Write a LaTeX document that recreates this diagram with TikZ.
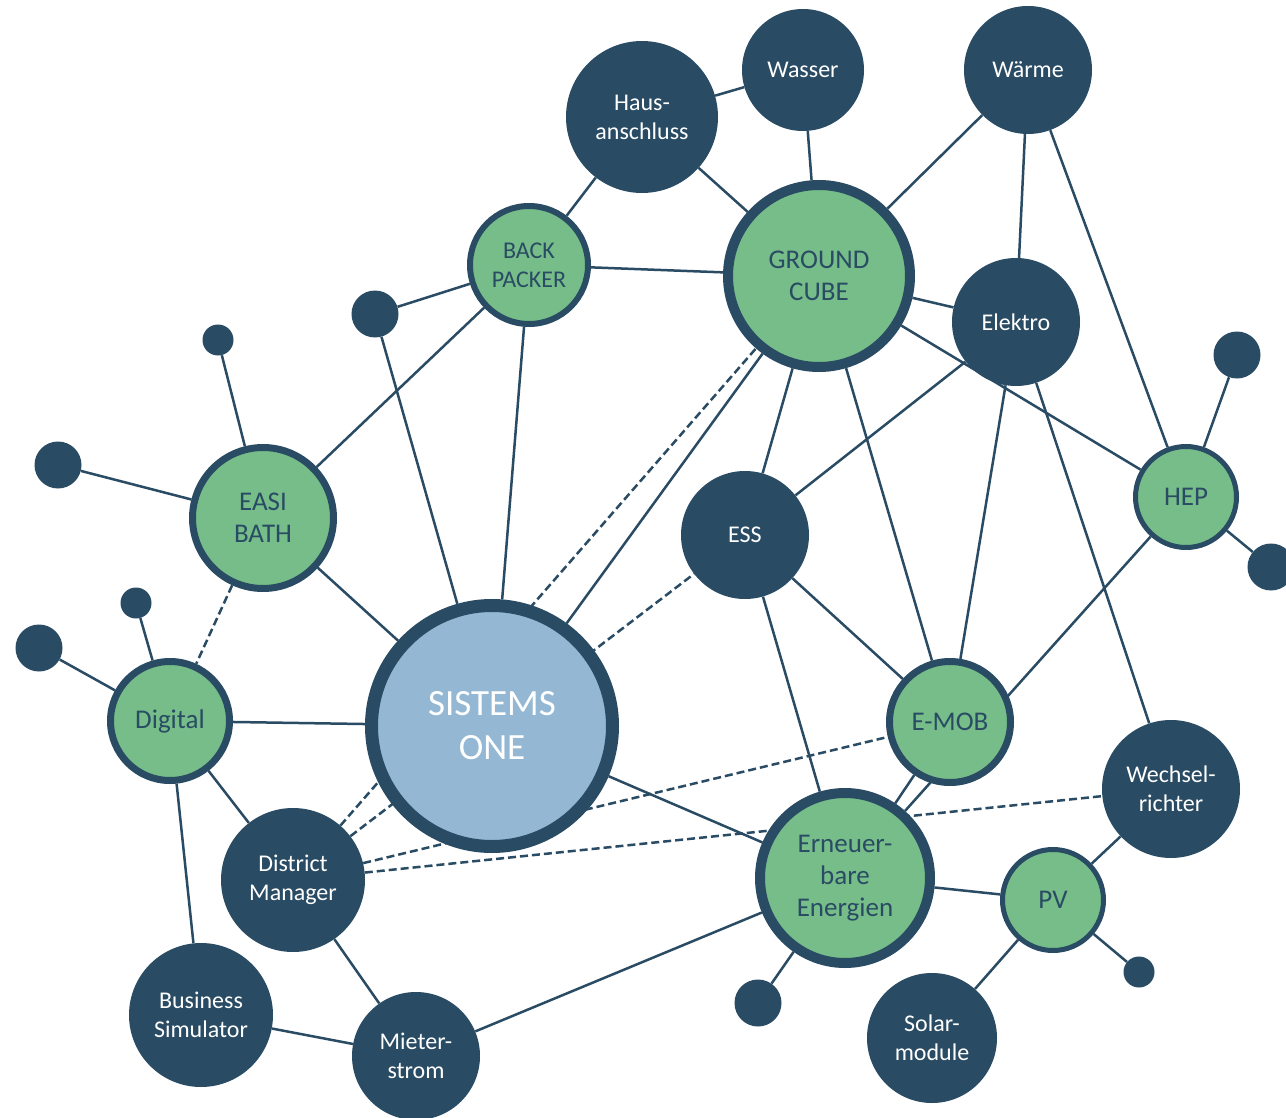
\documentclass[tikz,border=0pt]{standalone}
\usepackage{fontspec}
\setmainfont{Carlito}
\usepackage{xcolor}
\definecolor{navy}{HTML}{294B63}
\definecolor{leaf}{HTML}{76BD89}
\definecolor{sky}{HTML}{94B8D4}
\usepackage{tikz}
\usetikzlibrary{backgrounds}

\tikzset{
  core/.style={circle, draw=navy, fill=sky, text=white, inner sep=0pt, align=center,
    font=\fontsize{37}{44}\selectfont},
  hub/.style={circle, draw=navy, fill=leaf, text=navy, inner sep=0pt, align=center,
    font=\fontsize{27}{32}\selectfont},
  topic/.style={circle, fill=navy, text=white, inner sep=0pt, align=center,
    font=\fontsize{24}{29}\selectfont},
  dotbig/.style={circle, fill=navy, inner sep=0pt, minimum size=47pt},
  dotsmall/.style={circle, fill=navy, inner sep=0pt, minimum size=31pt},
  link/.style={draw=navy, line width=2.5pt},
  dlink/.style={link, dash pattern=on 8pt off 4pt},
}

\begin{document}
\begin{tikzpicture}[x=1pt, y=-1pt]
  \useasboundingbox (0,0) rectangle (1286,1118);

  % Centre
  \node[core, line width=13pt, minimum size=241pt] (sys) at (492,726) {SISTEMS\\ONE};

  % Green hubs
  \node[hub, line width=10pt, minimum size=182pt] (cube) at (819,276) {GROUND\\CUBE};
  \node[hub, line width=10pt, minimum size=170pt] (ee) at (845,878) {Erneuer-\\bare\\Energien};
  \node[hub, line width=7pt, minimum size=141pt] (bath) at (263,518) {EASI\\BATH};
  \node[hub, line width=7pt, minimum size=119pt] (digi) at (170,721) {Digital};
  \node[hub, line width=7pt, minimum size=121pt] (emob) at (950,722) {E-MOB};
  \node[hub, line width=6pt, minimum size=118pt, font=\fontsize{24}{29}\selectfont] (pack) at (529,265) {BACK\\PACKER};
  \node[hub, line width=5pt, minimum size=101pt] (hep) at (1186,497) {HEP};
  \node[hub, line width=5pt, minimum size=101pt] (pv) at (1053,900) {PV};

  % Dark topics
  \node[topic, minimum size=122pt] (wasser) at (803,70) {Wasser};
  \node[topic, minimum size=152pt] (haus) at (642,117) {Haus-\\anschluss};
  \node[topic, minimum size=128pt] (waerme) at (1028,70) {Wärme};
  \node[topic, minimum size=128pt] (elektro) at (1016,322) {Elektro};
  \node[topic, minimum size=128pt] (ess) at (745,535) {ESS};
  \node[topic, minimum size=138pt] (wr) at (1171,789) {Wechsel-\\richter};
  \node[topic, minimum size=144pt] (dm) at (293,880) {District\\Manager};
  \node[topic, minimum size=144pt] (bsim) at (201,1015) {Business\\Simulator};
  \node[topic, minimum size=130pt] (solar) at (932,1038) {Solar-\\module};
  \node[topic, minimum size=128pt] (miete) at (416,1056) {Mieter-\\strom};

  % Loose ends
  \node[dotbig] (d1) at (375,314) {};
  \node[dotsmall] (d2) at (218,340) {};
  \node[dotbig] (d3) at (58,465) {};
  \node[dotsmall] (d4) at (136,603) {};
  \node[dotbig] (d5) at (39,648) {};
  \node[dotbig] (d6) at (1237,355) {};
  \node[dotbig] (d7) at (1271,567) {};
  \node[dotsmall] (d8) at (1139,972) {};
  \node[dotbig] (d9) at (758,1003) {};

  \begin{scope}[on background layer]
    % Top cluster
    \draw[link] (haus) -- (wasser);
    \draw[link] (wasser) -- (cube);
    \draw[link] (haus) -- (cube);
    \draw[link] (haus) -- (pack);
    \draw[link] (waerme) -- (cube);
    \draw[link] (waerme) -- (elektro);
    \draw[link] (waerme) -- (hep);
    \draw[link] (pack) -- (cube);
    \draw[link] (pack) -- (d1);
    \draw[link] (pack) -- (bath);
    \draw[link] (pack) -- (sys);
    \draw[link] (d1) -- (sys);
    \draw[link] (cube) -- (elektro);
    \draw[link] (cube) -- (hep);
    \draw[link] (cube) -- (ess);
    \draw[link] (cube) -- (emob);
    \draw[link] (cube) -- (sys);
    \draw[link] (elektro) -- (ess);
    \draw[link] (elektro) -- (emob);
    \draw[link] (elektro) -- (wr);
    \draw[link] (hep) -- (d6);
    \draw[link] (hep) -- (d7);
    \draw[link] (hep) -- (ee);

    % Left side
    \draw[link] (bath) -- (d2);
    \draw[link] (bath) -- (d3);
    \draw[link] (bath) -- (sys);
    \draw[link] (digi) -- (d4);
    \draw[link] (digi) -- (d5);
    \draw[link] (digi) -- (sys);
    \draw[link] (digi) -- (dm);
    \draw[link] (digi) -- (bsim);
    \draw[link] (dm) -- (miete);
    \draw[link] (bsim) -- (miete);

    % Bottom right
    \draw[link] (ess) -- (emob);
    \draw[link] (ess) -- (ee);
    \draw[link] (sys) -- (ee);
    \draw[link] (emob) -- (ee);
    \draw[link] (ee) -- (pv);
    \draw[link] (ee) -- (d9);
    \draw[link] (ee) -- (miete);
    \draw[link] (pv) -- (wr);
    \draw[link] (pv) -- (solar);
    \draw[link] (pv) -- (d8);

    % Dashed links
    \draw[dlink] (bath) -- (digi);
    \draw[dlink] (dm) -- (cube);
    \draw[dlink] (dm) -- (ess);
    \draw[dlink] (dm) -- (emob);
    \draw[dlink] (dm) -- (wr);
  \end{scope}
\end{tikzpicture}
\end{document}
